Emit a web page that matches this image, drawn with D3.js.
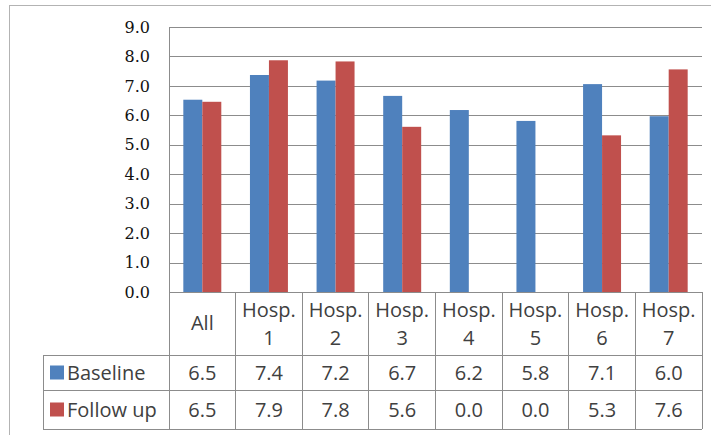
<!DOCTYPE html>
<html>
<head>
<meta charset="utf-8">
<script src="https://cdn.jsdelivr.net/npm/d3@7"></script>
<style>
  body { margin: 0; background: #fff; }
  svg { display: block; }
</style>
</head>
<body>
<div id="container"></div>
<script>
// chart data
const categories = ['All', 'Hosp. 1', 'Hosp. 2', 'Hosp. 3', 'Hosp. 4', 'Hosp. 5', 'Hosp. 6', 'Hosp. 7'];
const seriesNames = ['Baseline', 'Follow up'];
const baseline = [6.53, 7.37, 7.18, 6.66, 6.18, 5.81, 7.06, 5.97];
const followUp = [6.46, 7.87, 7.83, 5.61, 0.0, 0.0, 5.32, 7.56];
const yTicks = [0, 1, 2, 3, 4, 5, 6, 7, 8, 9];

// dimensions
const width = 711;
const height = 435;
const plot = { left: 169, right: 702, top: 27, bottom: 292 };
const table = { left: 43, header: 355, row1: 390, bottom: 429 };
const colors = ['#4F81BD', '#C0504D'];

const svg = d3.select('#container')
              .append('svg')
              .attr('width', width)
              .attr('height', height);

// outer chart border
svg.append('rect')
   .attr('x', 9.5)
   .attr('y', 5.5)
   .attr('width', 720)
   .attr('height', 440)
   .attr('fill', 'none')
   .attr('stroke', '#b3b3b3');

const x = d3.scaleBand()
            .domain(categories)
            .range([plot.left, plot.right]);

const xSeries = d3.scaleBand()
                  .domain(seriesNames)
                  .range([x.bandwidth() * 0.215, x.bandwidth() * 0.785]);

const y = d3.scaleLinear()
            .domain([0, 9])
            .range([plot.bottom, plot.top]);

// gridlines
svg.append('g')
   .selectAll('line')
   .data(yTicks.slice(1))
   .enter()
   .append('line')
   .attr('x1', plot.left)
   .attr('x2', plot.right)
   .attr('y1', (d) => Math.round(y(d)) + 0.5)
   .attr('y2', (d) => Math.round(y(d)) + 0.5)
   .attr('stroke', '#8c8c8c');

// y axis labels
const yAxis = d3.axisLeft(y)
                .tickValues(yTicks)
                .tickFormat(d3.format('.1f'))
                .tickSize(0)
                .tickPadding(19);

svg.append('g')
   .attr('transform', `translate(${plot.left},0)`)
   .call(yAxis)
   .call((g) => g.select('.domain').remove())
   .selectAll('text')
   .attr('font-family', 'DejaVu Serif')
   .attr('font-size', 16)
   .attr('fill', '#111');

// bars
const series = [baseline, followUp];
series.forEach((values, i) => {
    svg.append('g')
       .selectAll('rect')
       .data(values)
       .enter()
       .append('rect')
       .attr('x', (d, j) => x(categories[j]) + xSeries(seriesNames[i]))
       .attr('width', xSeries.bandwidth())
       .attr('y', (d) => y(d))
       .attr('height', (d) => y(0) - y(d))
       .attr('fill', colors[i]);
});

// data table lines
const lineColor = '#8c8c8c';
const tbl = svg.append('g')
               .attr('stroke', lineColor)
               .attr('shape-rendering', 'crispEdges');

// axis baseline and left axis
tbl.append('line')
   .attr('x1', plot.left).attr('x2', plot.right)
   .attr('y1', plot.bottom).attr('y2', plot.bottom);
tbl.append('line')
   .attr('x1', plot.left).attr('x2', plot.left)
   .attr('y1', plot.top).attr('y2', table.bottom);

// horizontal table rules
[table.header, table.row1, table.bottom].forEach((ry) => {
    tbl.append('line')
       .attr('x1', table.left).attr('x2', plot.right)
       .attr('y1', ry).attr('y2', ry);
});
tbl.append('line')
   .attr('x1', table.left).attr('x2', table.left)
   .attr('y1', table.header).attr('y2', table.bottom);

// column separators
tbl.selectAll('.col')
   .data(categories)
   .enter()
   .append('line')
   .attr('class', 'col')
   .attr('x1', (d) => x(d) + x.bandwidth())
   .attr('x2', (d) => x(d) + x.bandwidth())
   .attr('y1', plot.bottom)
   .attr('y2', table.bottom);

const textFont = 'Open Sans';
const textSize = 20;
const textColor = '#404040';

// header labels
const header = svg.append('g')
                  .selectAll('text')
                  .data(categories)
                  .enter()
                  .append('text')
                  .attr('font-family', textFont)
                  .attr('font-size', textSize)
                  .attr('fill', textColor)
                  .attr('text-anchor', 'middle');

header.each(function(d) {
    const parts = d.split(' ');
    const cx = x(d) + x.bandwidth() / 2;
    const t = d3.select(this);
    if (parts.length === 1) {
        t.append('tspan').attr('x', cx).attr('y', 330).text(d);
    } else {
        t.append('tspan').attr('x', cx).attr('y', 317).text(parts[0]);
        t.append('tspan').attr('x', cx).attr('y', 345).text(parts[1]);
    }
});

// row values
const rowMid = [(table.header + table.row1) / 2, (table.row1 + table.bottom) / 2];
const fmt = d3.format('.1f');
series.forEach((values, i) => {
    svg.append('g')
       .selectAll('text')
       .data(values)
       .enter()
       .append('text')
       .attr('x', (d, j) => x(categories[j]) + x.bandwidth() / 2)
       .attr('y', rowMid[i])
       .attr('dy', '0.35em')
       .attr('text-anchor', 'middle')
       .attr('font-family', textFont)
       .attr('font-size', textSize)
       .attr('fill', textColor)
       .text((d) => fmt(d));

    // legend key + name
    svg.append('rect')
       .attr('x', 50)
       .attr('y', rowMid[i] - 7)
       .attr('width', 14)
       .attr('height', 14)
       .attr('fill', colors[i]);

    svg.append('text')
       .attr('x', 67)
       .attr('y', rowMid[i])
       .attr('dy', '0.35em')
       .attr('font-family', textFont)
       .attr('font-size', textSize)
       .attr('fill', textColor)
       .text(seriesNames[i]);
});
</script>
</body>
</html>
